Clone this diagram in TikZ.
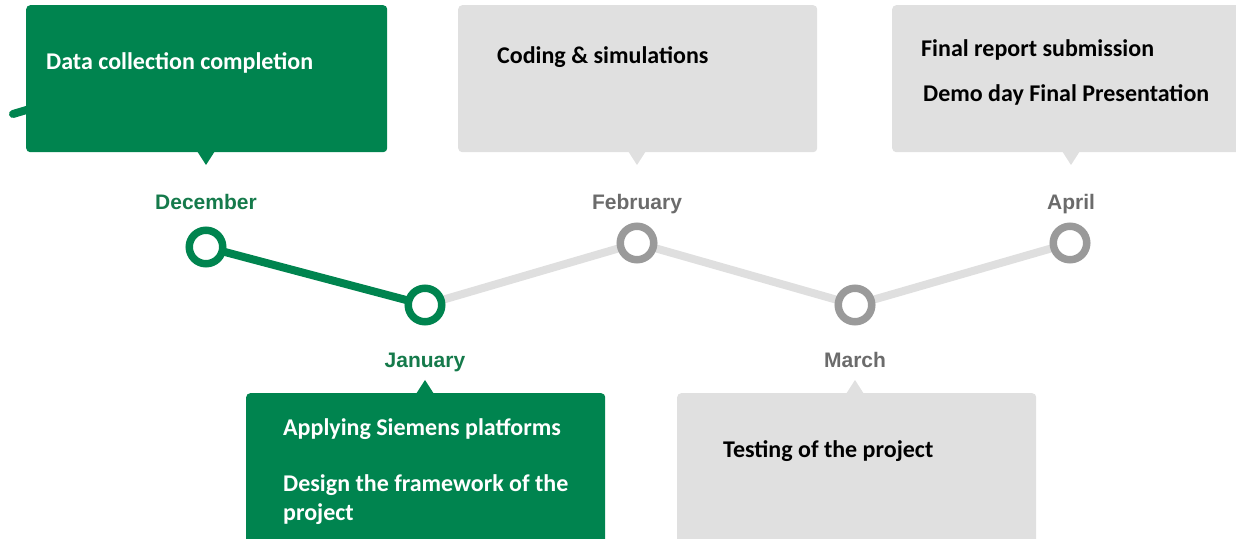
\documentclass[tikz,border=0pt]{standalone}
\usepackage{fontspec}
\setmainfont{Carlito}
\newfontfamily\arialfont{Liberation Sans}
\definecolor{sgreen}{HTML}{00844F}
\definecolor{mgreen}{HTML}{157A4B}
\definecolor{boxgray}{HTML}{E0E0E0}
\definecolor{linegray}{HTML}{DFDFDF}
\definecolor{ringgray}{HTML}{9A9A9A}
\definecolor{labgray}{HTML}{6B6B6B}
\tikzset{
  callout/.style={rounded corners=4bp, minimum width=#1, anchor=north west, inner sep=0pt},
  gbox/.style={callout=#1, fill=sgreen},
  ybox/.style={callout=#1, fill=boxgray},
  ring/.style={circle, minimum size=33.5bp, inner sep=0pt, line width=7.5bp, fill=white},
  gring/.style={ring, draw=sgreen},
  yring/.style={ring, draw=ringgray},
  month/.style={font=\arialfont\bfseries\fontsize{21bp}{25bp}\selectfont, anchor=base, inner sep=0pt},
  btext/.style={font=\bfseries\fontsize{24bp}{29bp}\selectfont, anchor=base west, inner sep=0pt, align=left},
  tline/.style={line width=8bp},
}
\begin{document}
\begin{tikzpicture}[x=1bp,y=-1bp]
\useasboundingbox (0,0) rectangle (1236,539);
\clip (0,0) rectangle (1236,539);
% stub of a line behind the first box
\coordinate (stubA) at (13,114);
\coordinate (stubB) at (40,106);
\draw[sgreen, tline, line cap=round] (stubA) -- (stubB);
% callout boxes
\node[gbox=361bp, minimum height=147bp] (decbox) at (26,5) {};
\fill[sgreen] (197,151) -- (206,165) -- (215,151) -- cycle;
\node[ybox=359bp, minimum height=147bp] (febbox) at (458,5) {};
\fill[boxgray] (628,151) -- (637,165) -- (646,151) -- cycle;
\node[ybox=360bp, minimum height=147bp] (aprbox) at (892,5) {};
\fill[boxgray] (1062,151) -- (1071,165) -- (1080,151) -- cycle;
\node[gbox=359bp, minimum height=160bp] (janbox) at (246,393) {};
\fill[sgreen] (416,394) -- (425,380) -- (434,394) -- cycle;
\node[ybox=359bp, minimum height=160bp] (marbox) at (677,393) {};
\fill[boxgray] (846,394) -- (855,380) -- (864,394) -- cycle;
% box texts
\node[btext, text=white] (t1) at (46,70) {Data collection completion};
\node[btext] (t2) at (497,64) {Coding \& simulations};
\node[btext] (t3) at (921,57) {Final report submission};
\node[btext] (t4) at (923,102) {Demo day Final Presentation};
\node[btext, text=white] (t5) at (283,435) {Applying Siemens platforms};
\node[btext, text=white] (t6) at (283,491) {Design the framework of the};
\node[btext, text=white] (t7) at (283,520) {project};
\node[btext] (t8) at (723,457) {Testing of the project};
% month labels
\node[month, text=mgreen] (ldec) at (206,210) {December};
\node[month, text=labgray] (lfeb) at (637,210) {February};
\node[month, text=labgray] (lapr) at (1071,210) {April};
\node[month, text=mgreen] (ljan) at (425,368) {January};
\node[month, text=labgray] (lmar) at (855,368) {March};
% timeline
\coordinate (cdec) at (206,247);
\coordinate (cjan) at (425,305);
\coordinate (cfeb) at (637,243);
\coordinate (cmar) at (855,305);
\coordinate (capr) at (1070,243);
\draw[linegray, tline] (cjan) -- (cfeb) -- (cmar) -- (capr);
\draw[sgreen, tline] (cdec) -- (cjan);
\node[gring] (dec) at (cdec) {};
\node[gring] (jan) at (cjan) {};
\node[yring] (feb) at (cfeb) {};
\node[yring] (mar) at (cmar) {};
\node[yring] (apr) at (capr) {};
\end{tikzpicture}
\end{document}
